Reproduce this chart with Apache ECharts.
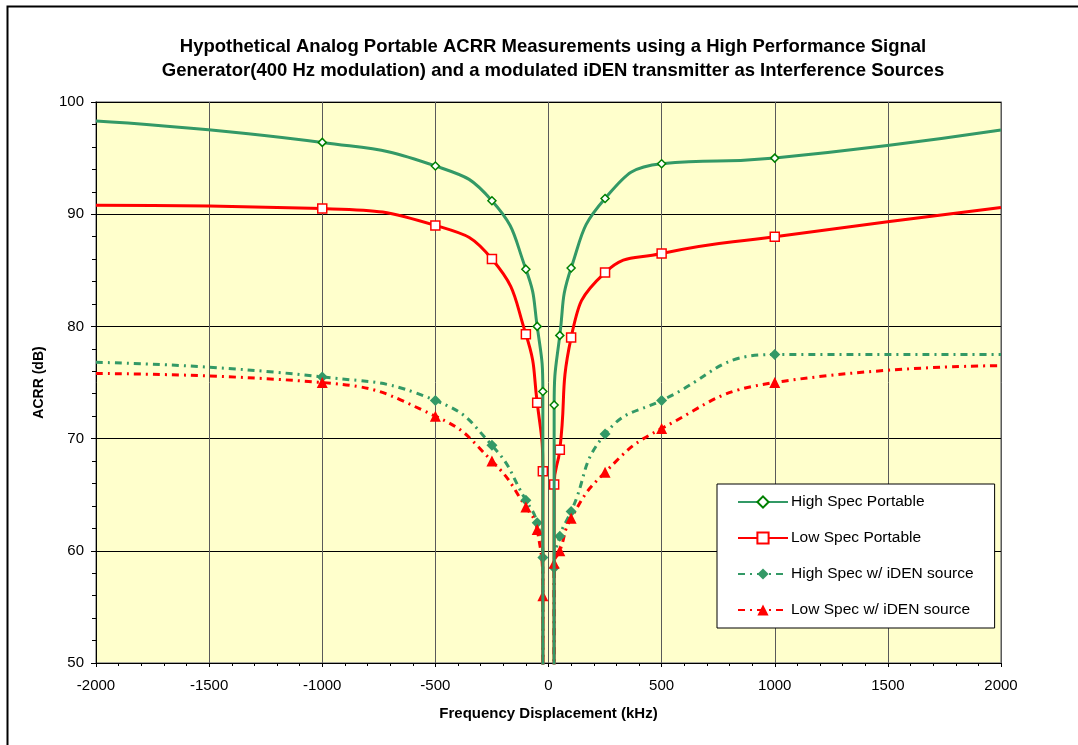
<!DOCTYPE html>
<html>
<head>
<meta charset="utf-8">
<script src="https://cdn.jsdelivr.net/npm/echarts@6/dist/echarts.min.js"></script>
<style>
html,body{margin:0;padding:0;background:#fff;}
#chart{width:1078px;height:745px;}
</style>
</head>
<body>
<div id="chart"></div>
<script>
// Frequency displacement (kHz) for each series; '-' breaks the line at the carrier.
var freqs = [-2000, -1000, -500, -250, -100, -50, -25, -24, 0, 24, 25, 50, 100, 250, 500, 1000, 2000];
// Which points carry a marker
var marked = [false, true, true, true, true, true, true, false, false, false, true, true, true, true, true, true, false];

var highSpec = [98.3, 96.4, 94.3, 91.2, 85.1, 80.0, 74.2, 0, '-', 0, 73.0, 79.2, 85.2, 91.4, 94.5, 95.0, 97.5];
var lowSpec  = [90.8, 90.5, 89.0, 86.0, 79.3, 73.2, 67.1, 0, '-', 0, 65.9, 69.0, 79.0, 84.8, 86.5, 88.0, 90.6];
var highIden = [76.8, 75.5, 73.4, 69.4, 64.5, 62.5, 59.4, 0, '-', 0, 58.5, 61.3, 63.5, 70.4, 73.4, 77.5, 77.5];
var lowIden  = [75.8, 75.0, 72.0, 68.0, 63.9, 61.9, 56.0, 0, '-', 0, 58.9, 60.0, 62.9, 67.0, 70.9, 75.0, 76.5];

var seriesNames = ['High Spec Portable', 'Low Spec Portable', 'High Spec w/ iDEN source', 'Low Spec w/ iDEN source'];
var xTicks = [-2000, -1500, -1000, -500, 0, 500, 1000, 1500, 2000];
var yTicks = [50, 60, 70, 80, 90, 100];

function build(vals) {
  return freqs.map(function (f, i) {
    var item = { value: [f, vals[i]] };
    if (!marked[i]) item.symbol = 'none';
    return item;
  });
}

var GREEN = '#339966';
var RED = '#ff0000';
var dashDot = [7, 5, 2, 5];
var FONT = 'Liberation Sans, Arial, sans-serif';

var chart = echarts.init(document.getElementById('chart'));
chart.setOption({
  animation: false,
  backgroundColor: '#ffffff',
  textStyle: { fontFamily: FONT },
  title: {
    text: 'Hypothetical Analog Portable ACRR Measurements using a High Performance Signal\nGenerator(400 Hz modulation) and a modulated iDEN transmitter as Interference Sources',
    left: 548, top: 30, textAlign: 'center',
    textStyle: { fontSize: 18.5, fontWeight: 'bold', color: '#000', lineHeight: 24, fontFamily: FONT }
  },
  graphic: [{
    type: 'rect', left: 5, top: 4, z: 100, silent: true,
    shape: { width: 1100, height: 800 },
    style: { fill: 'none', stroke: '#000', lineWidth: 2 }
  }],
  grid: {
    left: 96, right: 77, top: 102, bottom: 82,
    show: true, backgroundColor: '#ffffcc', borderColor: '#8a8a8a', borderWidth: 1.5
  },
  legend: {
    data: seriesNames,
    orient: 'vertical',
    left: 717, top: 484,
    backgroundColor: '#ffffff', borderColor: '#000', borderWidth: 1,
    padding: [10, 21, 10, 20],
    itemWidth: 50, itemHeight: 14, itemGap: 20,
    textStyle: { fontSize: 15.5, color: '#000', fontFamily: FONT, padding: [0, 0, 0, -2] }
  },
  xAxis: {
    type: 'value', min: -2000, max: 2000, interval: 500,
    name: 'Frequency Displacement (kHz)', nameLocation: 'middle', nameGap: 43,
    nameTextStyle: { fontSize: 15, fontWeight: 'bold', color: '#000' },
    axisLine: { show: true, onZero: false, lineStyle: { color: '#000', width: 1 } },
    axisTick: { show: true, length: 4, lineStyle: { color: '#000' } },
    minorTick: { show: true, splitNumber: 5, length: 3, lineStyle: { color: '#000' } },
    axisLabel: { fontSize: 15, color: '#000', margin: 15,
      formatter: function (v) { return String(v); } },
    splitLine: { show: true, lineStyle: { color: '#5a5a5a', width: 1 } }
  },
  yAxis: {
    type: 'value', min: 50, max: 100, interval: 10,
    name: 'ACRR (dB)', nameLocation: 'middle', nameGap: 50, nameRotate: 90,
    nameTextStyle: { fontSize: 14, fontWeight: 'bold', color: '#000' },
    axisLine: { show: true, onZero: false, lineStyle: { color: '#000', width: 1 } },
    axisTick: { show: true, length: 5, lineStyle: { color: '#000' } },
    minorTick: { show: true, splitNumber: 5, length: 4, lineStyle: { color: '#000' } },
    axisLabel: { fontSize: 15, color: '#000', margin: 12,
      formatter: function (v) { return String(v); } },
    splitLine: { show: true, lineStyle: { color: '#000', width: 1 } }
  },
  series: [
    {
      name: seriesNames[0], type: 'line', data: build(highSpec),
      smooth: 0.5, clip: true, z: 4,
      symbol: 'diamond', symbolSize: 8,
      lineStyle: { color: GREEN, width: 3 },
      itemStyle: { color: '#ffffff', borderColor: '#008000', borderWidth: 1.5 }
    },
    {
      name: seriesNames[1], type: 'line', data: build(lowSpec),
      smooth: 0.5, clip: true, z: 3,
      symbol: 'rect', symbolSize: 9,
      lineStyle: { color: RED, width: 3 },
      itemStyle: { color: '#ffffff', borderColor: RED, borderWidth: 1.5 }
    },
    {
      name: seriesNames[2], type: 'line', data: build(highIden),
      smooth: 0.5, clip: true, z: 2,
      symbol: 'diamond', symbolSize: 11,
      lineStyle: { color: GREEN, width: 3, type: dashDot },
      itemStyle: { color: GREEN, borderColor: GREEN, borderWidth: 0 }
    },
    {
      name: seriesNames[3], type: 'line', data: build(lowIden),
      smooth: 0.5, clip: true, z: 2,
      symbol: 'triangle', symbolSize: 11,
      lineStyle: { color: RED, width: 3, type: dashDot },
      itemStyle: { color: RED, borderColor: RED, borderWidth: 0 }
    }
  ]
});
</script>
</body>
</html>
